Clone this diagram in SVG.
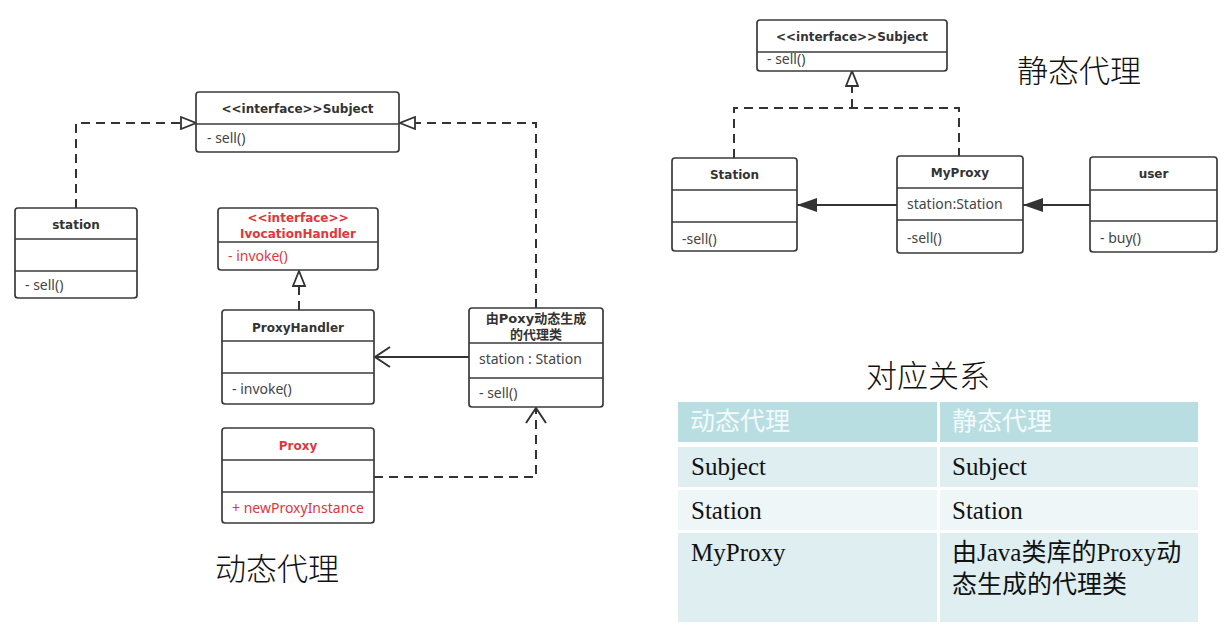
<svg xmlns="http://www.w3.org/2000/svg" width="1232" height="640" viewBox="0 0 1232 640">
<style>
.box{fill:#fff;stroke:#3a3a3a;stroke-width:1.7}
.div{stroke:#3a3a3a;stroke-width:1.5;fill:none}
.t{font-family:"DejaVu Sans","Noto Sans CJK SC",sans-serif;font-weight:bold;font-size:12px;fill:#333;text-anchor:middle}
.big{font-size:13px}
.m{font-family:"Noto Sans","Noto Sans CJK SC",sans-serif;font-size:14px;fill:#444}
.red{fill:#e0363d}
.conn{fill:none;stroke:#333;stroke-width:2}
.dash{stroke-dasharray:9 6}
.cap{font-family:"Noto Sans CJK SC",sans-serif;font-weight:300;font-size:31px;fill:#111}
.cell{font-family:"Liberation Serif","Noto Sans CJK SC",serif;font-size:25px;fill:#111}
.hd{fill:#f3fafb}
</style>
<defs>
<marker id="tri" markerUnits="userSpaceOnUse" markerWidth="18" markerHeight="14" refX="15" refY="6" orient="auto" viewBox="-1 -1 18 14">
<path d="M0,0 L15,6 L0,12 z" fill="#fff" stroke="#333" stroke-width="1.8" stroke-dasharray="none"/>
</marker>
<marker id="vee" markerUnits="userSpaceOnUse" markerWidth="18" markerHeight="24" refX="15" refY="10" orient="auto" viewBox="-1 -1 18 24">
<path d="M0,0 L15,10 L0,20" fill="none" stroke="#333" stroke-width="2" stroke-dasharray="none"/>
</marker>
<marker id="fill" markerUnits="userSpaceOnUse" markerWidth="22" markerHeight="16" refX="20" refY="7" orient="auto" viewBox="0 0 22 16">
<path d="M0,0 L20,7 L0,14 z" fill="#333" stroke="none"/>
</marker>
</defs>
<rect width="1232" height="640" fill="#fff"/>

<g id="connectors">
<path class="conn dash" d="M76,208 V123 H196" marker-end="url(#tri)"/>
<path class="conn dash" d="M536,308 V123 H400" marker-end="url(#tri)"/>
<path class="conn dash" d="M299,310 V271" marker-end="url(#tri)"/>
<path class="conn" d="M469,357 H375" marker-end="url(#vee)"/>
<path class="conn dash" d="M374,477 H536 V408" marker-end="url(#vee)"/>
<path class="conn dash" d="M734,158 V108 H959 V156"/>
<path class="conn dash" d="M852,108 V71" marker-end="url(#tri)"/>
<path class="conn" d="M897,205 H797" marker-end="url(#fill)"/>
<path class="conn" d="M1090,205 H1023" marker-end="url(#fill)"/>
</g>

<g id="subject-left">
<rect class="box" x="196" y="92" width="203" height="60" rx="3"/>
<line class="div" x1="196" y1="124" x2="399" y2="124"/>
<text class="t" x="297.5" y="113">&lt;&lt;interface&gt;&gt;Subject</text>
<text class="m" x="207" y="143">- sell()</text>
</g>

<g id="station-left">
<rect class="box" x="15" y="208" width="122" height="90" rx="3"/>
<line class="div" x1="15" y1="239" x2="137" y2="239"/>
<line class="div" x1="15" y1="271" x2="137" y2="271"/>
<text class="t" x="76" y="229">station</text>
<text class="m" x="25" y="290">- sell()</text>
</g>

<g id="invocation-handler">
<rect class="box" x="218" y="208" width="160" height="62" rx="3"/>
<line class="div" x1="218" y1="242" x2="378" y2="242"/>
<text class="t red" x="298" y="222">&lt;&lt;interface&gt;&gt;</text>
<text class="t red" x="298" y="238">IvocationHandler</text>
<text class="m red" x="228" y="261">- invoke()</text>
</g>

<g id="proxy-handler">
<rect class="box" x="222" y="310" width="152" height="94" rx="3"/>
<line class="div" x1="222" y1="341" x2="374" y2="341"/>
<line class="div" x1="222" y1="373" x2="374" y2="373"/>
<text class="t" x="298" y="332">ProxyHandler</text>
<text class="m" x="232" y="394">- invoke()</text>
</g>

<g id="generated-proxy">
<rect class="box" x="469" y="308" width="134" height="99" rx="3"/>
<line class="div" x1="469" y1="343" x2="603" y2="343"/>
<line class="div" x1="469" y1="378" x2="603" y2="378"/>
<text class="t big" x="536" y="323">由Poxy动态生成</text>
<text class="t big" x="536" y="339">的代理类</text>
<text class="m" x="479" y="364">station : Station</text>
<text class="m" x="479" y="398">- sell()</text>
</g>

<g id="proxy">
<rect class="box" x="222" y="428" width="152" height="95" rx="3"/>
<line class="div" x1="222" y1="460" x2="374" y2="460"/>
<line class="div" x1="222" y1="492" x2="374" y2="492"/>
<text class="t red" x="298" y="450">Proxy</text>
<text class="m red" x="232" y="513">+ newProxyInstance</text>
</g>

<g id="subject-right">
<rect class="box" x="757" y="20" width="190" height="51" rx="3"/>
<line class="div" x1="757" y1="52" x2="947" y2="52"/>
<text class="t" x="852" y="41">&lt;&lt;interface&gt;&gt;Subject</text>
<text class="m" x="767" y="64">- sell()</text>
</g>

<g id="station-right">
<rect class="box" x="672" y="158" width="125" height="93" rx="3"/>
<line class="div" x1="672" y1="190" x2="797" y2="190"/>
<line class="div" x1="672" y1="222" x2="797" y2="222"/>
<text class="t" x="734.5" y="179">Station</text>
<text class="m" x="682" y="244">-sell()</text>
</g>

<g id="myproxy">
<rect class="box" x="897" y="156" width="126" height="97" rx="3"/>
<line class="div" x1="897" y1="188" x2="1023" y2="188"/>
<line class="div" x1="897" y1="220" x2="1023" y2="220"/>
<text class="t" x="960" y="177">MyProxy</text>
<text class="m" x="907" y="209">station:Station</text>
<text class="m" x="907" y="243">-sell()</text>
</g>

<g id="user">
<rect class="box" x="1090" y="157" width="127" height="95" rx="3"/>
<line class="div" x1="1090" y1="190" x2="1217" y2="190"/>
<line class="div" x1="1090" y1="221" x2="1217" y2="221"/>
<text class="t" x="1153.5" y="178">user</text>
<text class="m" x="1100" y="243">- buy()</text>
</g>

<g id="captions">
<text class="cap" x="215" y="580">动态代理</text>
<text class="cap" x="1017" y="82">静态代理</text>
<text class="cap" x="866" y="387">对应关系</text>
</g>

<g id="table">
<rect x="678" y="402" width="259" height="40" fill="#b9dee2"/>
<rect x="940" y="402" width="258" height="40" fill="#b9dee2"/>
<rect x="678" y="447" width="259" height="40" fill="#deeef1"/>
<rect x="940" y="447" width="258" height="40" fill="#deeef1"/>
<rect x="678" y="490" width="259" height="40" fill="#eff6f8"/>
<rect x="940" y="490" width="258" height="40" fill="#eff6f8"/>
<rect x="678" y="533" width="259" height="89" fill="#deeef1"/>
<rect x="940" y="533" width="258" height="89" fill="#deeef1"/>
<text class="cell hd" x="690" y="430">动态代理</text>
<text class="cell hd" x="952" y="430">静态代理</text>
<text class="cell" x="691" y="475">Subject</text>
<text class="cell" x="952" y="475">Subject</text>
<text class="cell" x="691" y="519">Station</text>
<text class="cell" x="952" y="519">Station</text>
<text class="cell" x="691" y="561">MyProxy</text>
<text class="cell" x="952" y="561">由Java类库的Proxy动</text>
<text class="cell" x="952" y="593">态生成的代理类</text>
</g>
</svg>
